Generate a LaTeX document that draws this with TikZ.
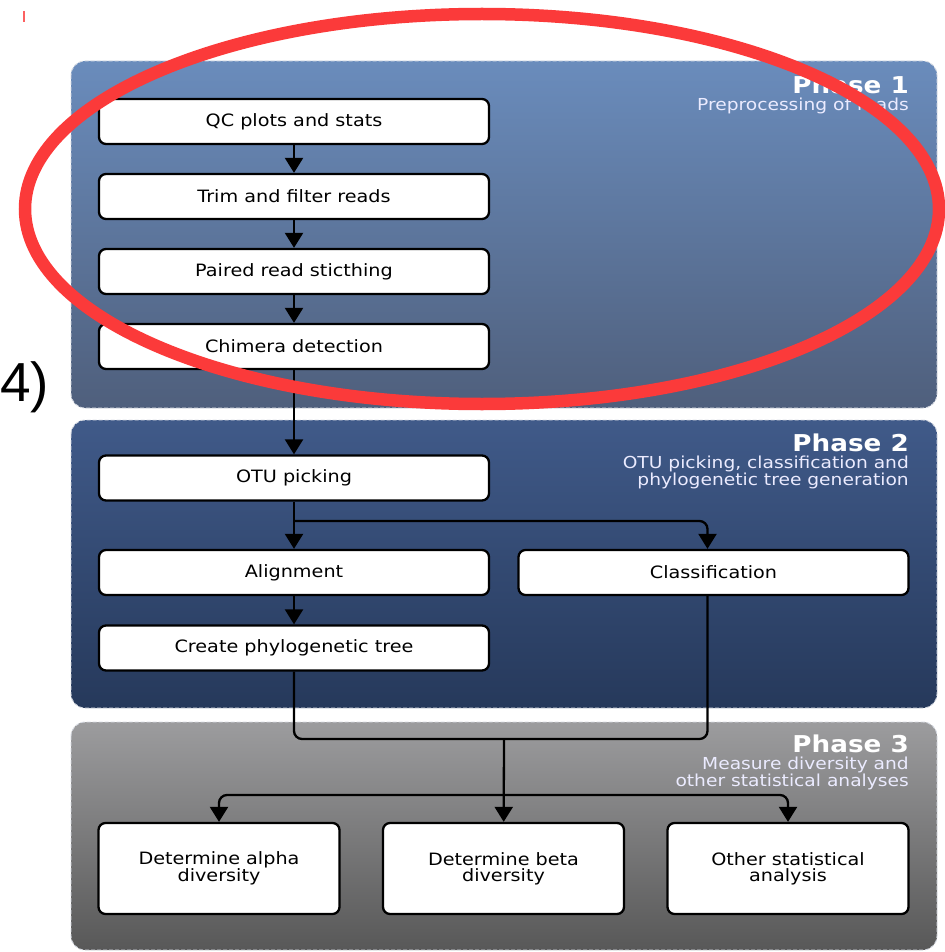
\documentclass[tikz,border=0pt]{standalone}
\usepackage{fontspec}
\setmainfont[FakeStretch=1.13]{DejaVu Sans}
\newfontfamily\arialf{Liberation Sans}
\usetikzlibrary{arrows.meta}
\definecolor{ponetop}{HTML}{6A8CBC}
\definecolor{ponebot}{HTML}{4F5F7C}
\definecolor{ptwotop}{HTML}{405A89}
\definecolor{ptwobot}{HTML}{26395B}
\definecolor{pthrtop}{HTML}{9C9C9E}
\definecolor{pthrbot}{HTML}{585858}
\definecolor{annred}{HTML}{FB3A3A}
\definecolor{dashc}{HTML}{D8DCE4}
\begin{document}
\begin{tikzpicture}[x=1pt,y=-1pt,
  panel/.style={rounded corners=14, draw=dashc, dash pattern=on 4pt off 2pt, line width=0.9},
  stepbox/.style={draw=black, line width=2.3, fill=white, rounded corners=7,
    minimum width=390, minimum height=45, inner sep=0,
    font=\fontsize{17}{16}\selectfont, align=center},
  endbox/.style={stepbox, minimum width=241, minimum height=91},
  conn/.style={line width=2.3, draw=black},
  arr/.style={conn, -{Triangle[length=15,width=18]}},
  ptitle/.style={anchor=base east, inner sep=0, text=white, font=\fontsize{23.2}{24}\selectfont\bfseries},
  psub/.style={anchor=base east, inner sep=0, text=white!92!blue, font=\fontsize{16.5}{17}\selectfont}
]
\useasboundingbox (0,0) rectangle (944,952);
\fill[white] (0,0) rectangle (944,952);

% panels
\path[panel, top color=ponetop, bottom color=ponebot] (71,61) rectangle (937,408);
\path[panel, top color=ptwotop, bottom color=ptwobot] (71,420) rectangle (937,708);
\path[panel, top color=pthrtop, bottom color=pthrbot] (71,722) rectangle (937,950);

% phase labels
\node[ptitle] (t1) at (909,94) {Phase 1};
\node[psub] (s1) at (909,110.5) {Preprocessing of reads};
\node[ptitle] (t2) at (909,451.5) {Phase 2};
\node[psub] (s2a) at (909,468.5) {OTU picking, classification and};
\node[psub] (s2b) at (909,485.5) {phylogenetic tree generation};
\node[ptitle] (t3) at (909,752.5) {Phase 3};
\node[psub] (s3a) at (909,769.5) {Measure diversity and};
\node[psub] (s3b) at (909,786.5) {other statistical analyses};

% boxes
\node[stepbox] (qc) at (294,121.5) {QC plots and stats};
\node[stepbox] (trim) at (294,196.5) {Trim and filter reads};
\node[stepbox] (pair) at (294,271.5) {Paired read sticthing};
\node[stepbox] (chim) at (294,346.5) {Chimera detection};
\node[stepbox] (otu) at (294,478) {OTU picking};
\node[stepbox] (align) at (294,572.5) {Alignment};
\node[stepbox] (class) at (713.5,572.5) {Classification};
\node[stepbox] (tree) at (294,648) {Create phylogenetic tree};
\node[endbox] (alpha) at (219,868.5) {Determine alpha\\diversity};
\node[endbox] (beta) at (503.5,868.5) {Determine beta\\diversity};
\node[endbox] (other) at (788,868.5) {Other statistical\\analysis};

% coordinates
\coordinate (br1) at (294,521);
\coordinate (mrg) at (504,739);
\coordinate (br2) at (504,795);

% connectors
\draw[arr] (qc) -- (trim);
\draw[arr] (trim) -- (pair);
\draw[arr] (pair) -- (chim);
\draw[arr] (chim) -- (otu);
\draw[arr] (otu) -- (align);
\draw[arr, rounded corners=8] (br1) -| ([xshift=-6]class.north);
\draw[arr] (align) -- (tree);
\draw[conn, rounded corners=8] (tree.south) |- (mrg) -| ([xshift=-6]class.south);
\draw[arr] (mrg) -- (beta);
\draw[arr, rounded corners=8] (br2) -| (alpha.north);
\draw[arr, rounded corners=8] (br2) -| (other.north);

% annotation overlay
\draw[annred, line width=12.5] (482,209) ellipse [x radius=457, y radius=195];
\node[anchor=base west, inner sep=0, font=\arialf\fontsize{55}{55}\selectfont] (lbl) at (0,401) {4)};
\draw[annred!80!white, line width=1.2] (24,11) -- (24,22);
\end{tikzpicture}
\end{document}
